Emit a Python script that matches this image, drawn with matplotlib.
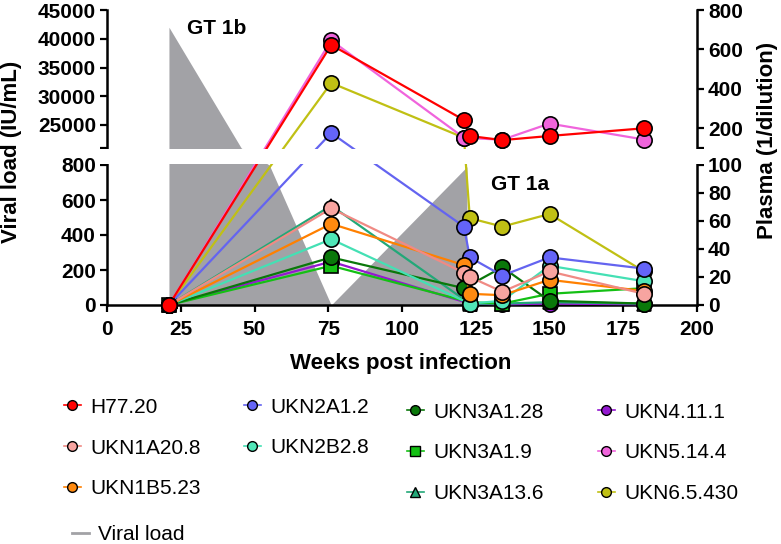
import numpy as np
import matplotlib
matplotlib.use("Agg")
import matplotlib.pyplot as plt
from matplotlib.lines import Line2D
from matplotlib.patches import Rectangle

plt.rcParams["font.family"] = ["Liberation Sans", "DejaVu Sans"]

nan = np.nan

# sampling weeks for the plasma titres
weeks = [21, 76, 121, 123, 134, 150, 182]

# plasma titre (1/dilution) per virus, nan = not measured at that week
h77_20 = [0, 623, 242, 161, 140, 161, 200]
ukn1a20_8 = [0, 69, 23, 20, 9.5, 24, 8]
ukn1b5_23 = [0, 58, 28.5, 8, 7, 18, 10]
ukn2a1_2 = [0, 176, 56, 34, 21, 34, 26]
ukn2b2_8 = [0, 47, nan, 1, 3, 28, 17]
ukn3a1_28 = [0, 34, 12, nan, 27, 3, 1]
ukn3a1_9 = [0, 28, nan, 2, 1, 8, 12]
ukn3a13_6 = [0, 71, nan, 1, 1, 2, 1]
ukn4_11_1 = [0, 31, nan, 1, 0.5, 1, 0.5]
ukn5_14_4 = [0, 646, 152, nan, 142, 224, 143]
ukn6_5_430 = [0, 430, 152, 62, 56, 65, 24]

# viral load (IU/mL)
viral_weeks = [21, 45.5, 55, 76, 122]
viral_load = [42000, 21000, 800, 0, 790]

names = ["H77.20", "UKN1A20.8", "UKN1B5.23", "UKN2A1.2", "UKN2B2.8",
         "UKN3A1.28", "UKN3A1.9", "UKN3A13.6", "UKN4.11.1", "UKN5.14.4",
         "UKN6.5.430"]
series = [h77_20, ukn1a20_8, ukn1b5_23, ukn2a1_2, ukn2b2_8, ukn3a1_28,
          ukn3a1_9, ukn3a13_6, ukn4_11_1, ukn5_14_4, ukn6_5_430]
line_colors = ["#ff0000", "#f08a84", "#ff8000", "#6464f0", "#44e0b4",
               "#0a780a", "#14c014", "#22a878", "#9418d0", "#f064dc",
               "#c0c014"]
face_colors = ["#ff0000", "#f7a4a0", "#ff8a10", "#6464f8", "#50e6b8",
               "#0a780a", "#14c014", "#22a878", "#9418d0", "#f064dc",
               "#c0c014"]
markers = ["o", "o", "o", "o", "o", "o", "s", "^", "o", "o", "o"]


def broken_scale(b0, t0, t1):
    # bottom segment 0..b0, white gap, top segment t0..t1 (units = pixels)
    def fwd(v):
        v = np.asarray(v, dtype=float)
        return np.where(v <= b0, v / b0 * 140,
                        np.where(v <= t0, 140 + (v - b0) / (t0 - b0) * 17,
                                 157 + (v - t0) / (t1 - t0) * 138))

    def inv(y):
        y = np.asarray(y, dtype=float)
        return np.where(y <= 140, y / 140 * b0,
                        np.where(y <= 157, b0 + (y - 140) / 17 * (t0 - b0),
                                 t0 + (y - 157) / 138 * (t1 - t0)))
    return fwd, inv


W, H = 781, 544
fig = plt.figure(figsize=(W / 100, H / 100), dpi=100)
ax = fig.add_axes([107 / W, 1 - 305 / H, 590 / W, 295 / H])
ax2 = ax.twinx()

ax.set_xlim(0, 200)
ax.set_yscale("function", functions=broken_scale(800, 21000, 45000))
ax.set_ylim(0, 45000)
ax2.set_yscale("function", functions=broken_scale(100, 100.01, 800))
ax2.set_ylim(0, 800)

ax.fill_between(viral_weeks, viral_load, 0, color="#a2a2a6", lw=0, zorder=1)

n = len(series)
for i, (name, vals) in enumerate(zip(names, series)):
    v = np.array(vals, dtype=float)
    w = np.array(weeks, dtype=float)
    ok = ~np.isnan(v)
    ax2.plot(w[ok], v[ok], color=line_colors[i], lw=1.6, marker=markers[i],
             ms=11 if markers[i] == "o" else 10,
             mfc=face_colors[i], mec="black", mew=1.2,
             clip_on=False, zorder=20 + n - i)

bold = dict(fontsize=15, fontweight="bold")
ax.set_xticks(range(0, 201, 25))
ax.set_xticklabels([str(t) for t in range(0, 201, 25)], **bold)
left_ticks = [0, 200, 400, 600, 800, 21000, 25000, 30000, 35000, 40000, 45000]
ax.set_yticks(left_ticks)
ax.set_yticklabels(["" if t == 21000 else str(t) for t in left_ticks], **bold)
right_ticks = [0, 20, 40, 60, 80, 100, 100.01, 200, 400, 600, 800]
ax2.set_yticks(right_ticks)
ax2.set_yticklabels(["" if t == 100.01 else str(int(t)) for t in right_ticks],
                    **bold)
ax.minorticks_off()
ax2.minorticks_off()

for a in (ax, ax2):
    a.tick_params(direction="out", length=5, width=1.6, pad=3, colors="black")
    for s in a.spines.values():
        s.set_linewidth(1.8)
ax.tick_params(axis="x", pad=6)
ax.spines["top"].set_visible(False)
ax.spines["right"].set_visible(False)
ax2.spines["top"].set_visible(False)
ax2.spines["left"].set_visible(False)
ax2.spines["bottom"].set_visible(False)

# white band for the axis break
fig.add_artist(Rectangle((100 / W, 1 - 163.6 / H), 604 / W, 14.3 / H,
                         transform=fig.transFigure, facecolor="white",
                         edgecolor="none", zorder=10))

fig.text(217 / W, 1 - 29 / H, "GT 1b", fontsize=15, fontweight="bold",
         ha="center", va="center")
fig.text(520 / W, 1 - 184 / H, "GT 1a", fontsize=15, fontweight="bold",
         ha="center", va="center")

fig.text(12 / W, 1 - 152 / H, "Viral load (IU/mL)", rotation=90,
         fontsize=16, fontweight="bold", ha="center", va="center")
fig.text(767 / W, 1 - 140 / H, "Plasma (1/dilution)", rotation=90,
         fontsize=16, fontweight="bold", ha="center", va="center")
fig.text(401 / W, 1 - 363 / H, "Weeks post infection",
         fontsize=16, fontweight="bold", ha="center", va="center")

# legend, four columns placed like the original
handles = [Line2D([], [], color=line_colors[i], lw=1.2, marker=markers[i],
                  ms=7, mfc=face_colors[i], mec="black", mew=1.0)
           for i in range(n)]
columns = [([0, 1, 2], 64, 448), ([3, 4], 244, 427.5),
           ([5, 6, 7], 407, 453), ([8, 9, 10], 598, 453)]
for idx, x0, yc in columns:
    fig.legend([handles[i] for i in idx], [names[i] for i in idx],
               loc="center left", bbox_to_anchor=(x0 / W, 1 - yc / H),
               frameon=False, fontsize=15, handlelength=0.8,
               handletextpad=0.45, labelspacing=1.05, borderpad=0,
               borderaxespad=0)
fig.legend([Line2D([], [], color="#a2a2a6", lw=2)], ["Viral load"],
           loc="center left", bbox_to_anchor=(72 / W, 1 - 535 / H),
           frameon=False, fontsize=15, handlelength=0.8, handletextpad=0.45,
           borderpad=0, borderaxespad=0)

fig.savefig("out.png", dpi=100)
